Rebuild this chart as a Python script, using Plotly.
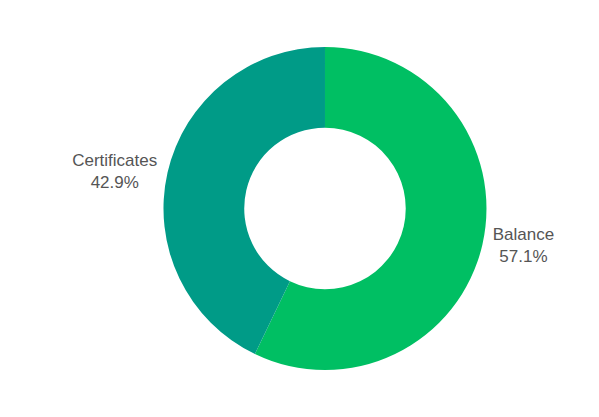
import plotly.graph_objects as go

labels = ["Balance", "Certificates"]
values = [4, 3]
colors = ["#00BF63", "#009B87"]

fig = go.Figure(go.Pie(
    labels=labels,
    values=values,
    hole=0.5,
    sort=False,
    direction="clockwise",
    rotation=0,
    marker=dict(colors=colors, line=dict(width=0)),
    textinfo="label+percent",
    textposition="outside",
    texttemplate="%{label}<br>%{percent:.1%}",
    textfont=dict(family="Liberation Sans, Arial, sans-serif", size=17, color="#555555"),
    showlegend=False,
    hoverinfo="label+percent",
    domain=dict(x=[0.245, 0.94], y=[0, 1]),
))

fig.update_layout(
    width=599,
    height=417,
    margin=dict(l=0, r=0, t=39, b=55),
    paper_bgcolor="white",
    plot_bgcolor="white",
)

fig.write_html("out.html")
